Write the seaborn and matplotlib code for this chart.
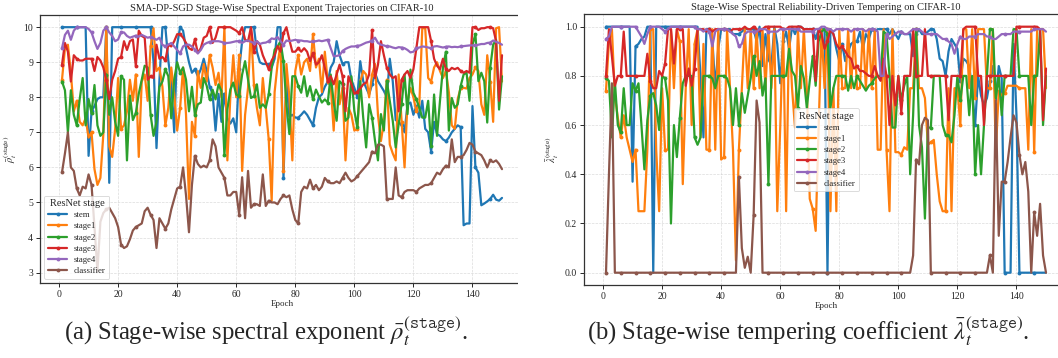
import numpy as np
import pandas as pd
import matplotlib
matplotlib.use("Agg")
import matplotlib.pyplot as plt
from matplotlib.patches import Rectangle
import seaborn as sns

epochs = list(range(1, 151))
stages = ["stem", "stage1", "stage2", "stage3", "stage4", "classifier"]
colors = ["#1f77b4", "#ff7f0e", "#2ca02c", "#d62728", "#9467bd", "#8c564b"]

# ---------------- panel (a): spectral exponent rho ----------------
stem_rho = [10, 10, 10, 10, 10, 10, 10, 10, 10, 6.33,
            7.6, 7.75, 7.95, 8.0, 8.0, 10, 5.56, 10, 10, 10,
            10, 10, 10, 10, 10, 10, 10, 10, 10, 10,
            10, 9.0, 6.55, 8.5, 10, 10, 9.05, 8.4, 7.0, 9.5,
            10, 9.9, 9.4, 9.0, 8.7, 8.8, 8.6, 8.8, 9.1, 8.75,
            8.3, 8.1, 7.05, 8.1, 7.3, 8.1, 7.4, 7.25, 7.4, 7.0,
            8.8, 9.6, 10, 10, 10, 10, 9.3, 9.0, 8.95, 8.95,
            8.95, 8.85, 9.1, 10, 10, 5.7, 8.45, 7.45, 7.5, 7.42,
            7.42, 7.5, 7.6, 7.5, 7.35, 7.2, 7.7, 8.0, 8.08, 8.3,
            8.45, 8.85, 9.0, 9.6, 9.2, 8.95, 9.0, 9.0, 8.5, 8.27,
            8.0, 9.03, 8.46, 8.27, 8.08, 8.37, 8.7, 8.46, 8.32, 8.18,
            8.0, 9.1, 8.46, 7.35, 7.3, 7.2, 7.0, 7.8, 7.85, 7.5,
            7.75, 7.42, 7.9, 7.1, 7.0, 6.45, 7.3, 6.95, 6.9, 6.8,
            6.75, 6.85, 7.0, 7.1, 7.2, 7.15, 4.35, 4.4, 4.4, 7.75,
            6.0, 5.85, 4.92, 4.97, 5.03, 5.1, 5.22, 5.08, 5.05, 5.13]
stage1_rho = [8.5, 9.4, 9.5, 8.7, 7.6, 7.9, 7.3, 7.2, 7.4, 6.85,
              7.0, 5.95, 5.5, 5.7, 6.95, 10.0, 6.6, 6.3, 7.1, 8.55,
              7.1, 7.2, 7.6, 8.5, 7.9, 8.65, 6.3, 8.45, 8.65, 7.9,
              9.45, 9.97, 8.75, 8.85, 8.3, 7.2, 7.7, 8.85, 8.1, 7.05,
              7.7, 8.85, 7.5, 5.1, 7.3, 6.9, 8.75, 8.27, 8.95, 8.45,
              9.2, 8.85, 8.35, 8.7, 8.0, 10.0, 6.2, 8.0, 9.2, 8.0,
              9.2, 5.9, 7.5, 8.27, 9.97, 8.35, 7.7, 7.2, 8.55, 7.7,
              6.8, 5.05, 8.15, 8.95, 9.5, 5.9, 8.95, 8.0, 6.2, 8.75,
              9.2, 8.65, 9.0, 9.1, 8.75, 9.8, 8.85, 9.1, 8.15, 9.3,
              8.45, 8.35, 7.05, 8.75, 7.8, 8.27, 6.2, 7.7, 7.5, 7.05,
              7.1, 8.45, 8.75, 8.65, 8.0, 8.65, 8.95, 7.5, 6.75, 7.3,
              8.5, 6.65, 6.4, 6.2, 8.65, 7.3, 6.0, 7.9, 8.27, 8.0,
              7.6, 7.8, 9.97, 9.97, 8.55, 8.45, 8.85, 9.0, 8.75, 8.55,
              8.75, 8.15, 7.2, 7.1, 7.95, 8.27, 8.27, 8.25, 8.55, 8.65,
              8.85, 8.75, 7.8, 7.5, 9.2, 8.45, 7.3, 9.97, 10.0, 8.45]
stage2_rho = [8.45, 8.2, 7.0, 8.2, 7.5, 7.2, 7.95, 8.55, 7.2, 7.95,
              7.55, 8.35, 7.2, 6.9, 7.0, 8.65, 7.5, 8.0, 7.3, 6.9,
              8.6, 8.5, 6.2, 8.05, 7.35, 7.55, 8.1, 8.5, 8.9, 8.85,
              7.5, 6.9, 7.3, 8.3, 8.45, 8.8, 8.6, 7.4, 8.5, 9.0,
              8.7, 8.85, 8.5, 7.6, 8.3, 7.5, 7.8, 7.85, 8.55, 8.33,
              7.94, 8.22, 7.94, 8.37, 8.18, 6.35, 7.66, 8.22, 8.42, 8.08,
              8.03, 8.65, 9.03, 8.5, 7.98, 8.03, 8.37, 7.7, 7.8, 7.7,
              8.08, 8.84, 9.36, 9.45, 9.6, 9.03, 7.8, 6.95, 8.6, 8.6,
              8.32, 8.13, 8.6, 8.03, 8.32, 7.94, 8.22, 8.03, 7.85, 7.94,
              7.85, 8.65, 7.85, 7.33, 8.46, 8.37, 7.33, 7.42, 8.6, 7.61,
              7.14, 8.46, 7.42, 6.57, 7.8, 7.42, 6.76, 6.2, 7.52, 7.05,
              8.46, 7.9, 7.33, 6.57, 7.23, 7.8, 8.65, 7.52, 8.79, 8.13,
              7.94, 7.7, 7.42, 7.42, 7.9, 6.6, 8.08, 6.9, 7.9, 8.84,
              9.3, 7.05, 7.98, 7.7, 7.8, 8.32, 8.65, 8.7, 7.9, 9.5,
              9.8, 8.46, 8.7, 8.46, 7.28, 8.84, 9.5, 9.64, 7.65, 8.6]
stage3_rho = [8.93, 9.55, 9.3, 8.45, 9.2, 9.1, 9.05, 9.05, 9.1, 9.1,
              9.1, 8.75, 9.15, 9.05, 8.85, 8.5, 7.95, 8.5, 8.75, 9.1,
              9.15, 9.6, 9.35, 9.6, 9.65, 8.9, 9.9, 9.75, 9.7, 8.5,
              8.6, 8.55, 9.5, 9.1, 9.15, 9.05, 9.5, 9.45, 9.6, 9.8,
              9.8, 9.7, 9.55, 9.4, 9.35, 9.65, 9.26, 9.4, 9.7, 9.75,
              10.0, 9.55, 9.7, 10.0, 10.0, 10.0, 10.0, 10.0, 9.95, 9.9,
              9.83, 10.0, 9.64, 9.6, 10.0, 9.3, 9.6, 9.5, 9.2, 9.0,
              8.8, 9.05, 9.2, 9.46, 9.3, 9.83, 10.0, 9.64, 9.3, 9.3,
              9.4, 9.3, 9.4, 9.3, 9.03, 9.26, 8.93, 9.0, 9.2, 8.84,
              8.46, 8.6, 8.37, 8.65, 8.93, 8.6, 7.6, 8.6, 8.37, 8.1,
              8.15, 8.25, 8.37, 8.42, 8.65, 9.92, 8.55, 8.93, 9.6, 9.2,
              8.84, 8.65, 8.55, 8.6, 7.6, 8.5, 8.65, 8.75, 8.55, 8.8,
              9.4, 10.0, 10.0, 10.0, 10.0, 9.6, 9.1, 8.9, 8.8, 9.1,
              8.8, 8.75, 8.84, 8.8, 8.84, 8.75, 8.7, 8.75, 8.7, 10.0,
              10.0, 9.92, 9.97, 9.97, 10.0, 10.0, 9.97, 9.6, 7.9, 9.2]
stage4_rho = [9.4, 9.78, 9.9, 9.64, 9.9, 10.0, 10.0, 10.0, 10.0, 9.95,
              9.85, 9.6, 9.38, 9.55, 9.9, 10.0, 9.85, 9.75, 9.6, 9.65,
              9.85, 9.85, 9.75, 9.7, 9.73, 9.76, 9.73, 9.78, 9.74, 9.7,
              9.72, 9.68, 9.64, 9.7, 9.5, 9.45, 9.5, 9.55, 9.45, 9.35,
              9.25, 9.45, 9.5, 9.5, 9.45, 9.36, 9.25, 9.35, 9.5, 9.55,
              9.58, 9.6, 9.6, 9.6, 9.58, 9.55, 9.55, 9.56, 9.58, 9.6,
              9.6, 9.55, 9.6, 9.62, 9.58, 9.55, 9.6, 9.52, 9.55, 9.56,
              9.6, 9.68, 9.66, 9.72, 9.6, 9.5, 9.62, 9.6, 9.62, 9.64,
              9.62, 9.62, 9.6, 9.6, 9.58, 9.6, 9.6, 9.62, 9.6, 9.62,
              9.64, 9.4, 9.17, 9.18, 9.2, 9.32, 9.38, 9.42, 9.45, 9.45,
              9.47, 9.48, 9.52, 9.56, 9.58, 9.62, 9.7, 9.55, 9.5, 9.48,
              9.45, 9.45, 9.42, 9.4, 9.43, 9.42, 9.4, 9.35, 9.28, 9.3,
              9.4, 9.42, 9.45, 9.44, 9.42, 9.4, 9.45, 9.46, 9.44, 9.42,
              9.44, 9.45, 9.43, 9.44, 9.43, 9.45, 9.46, 9.47, 9.48, 9.48,
              9.48, 9.5, 9.52, 9.52, 9.55, 9.56, 9.62, 9.58, 9.55, 9.5]
classifier_rho = [5.86, 6.4, 7.0, 6.0, 5.9, 5.4, 5.2, 5.45, 5.4, 5.8,
                  5.5, 4.3, 3.05, 4.45, 4.7, 4.8, 4.85, 4.7, 4.55, 4.3,
                  3.8, 3.7, 3.75, 3.95, 4.2, 4.3, 4.35, 4.4, 4.75, 4.85,
                  4.65, 4.5, 3.7, 4.55, 4.4, 4.25, 4.4, 4.8, 5.1, 5.4,
                  5.45, 6.0, 5.2, 4.15, 5.5, 6.33, 6.1, 6.0, 6.05, 6.0,
                  6.2, 6.8, 6.6, 6.0, 5.85, 5.7, 5.2, 5.2, 5.3, 5.3,
                  4.65, 5.72, 4.55, 5.9, 4.85, 4.95, 4.95, 4.9, 5.8, 4.9,
                  5.05, 5.0, 5.0, 4.95, 5.1, 5.2, 5.15, 5.2, 4.8, 4.5,
                  4.4, 5.3, 5.45, 5.4, 5.65, 5.4, 5.5, 5.35, 5.45, 5.7,
                  5.6, 5.55, 5.55, 5.6, 5.55, 5.7, 5.85, 5.7, 5.6, 5.65,
                  5.75, 5.85, 5.95, 6.05, 6.15, 6.45, 6.4, 6.65, 6.65, 6.6,
                  5.1, 5.1, 5.1, 6.0, 5.2, 5.15, 5.3, 5.35, 5.35, 5.35,
                  5.3, 5.4, 5.45, 5.5, 5.5, 5.55, 5.7, 5.85, 5.8, 5.95,
                  6.05, 6.0, 6.8, 6.15, 6.3, 6.3, 6.35, 6.5, 6.7, 6.65,
                  6.45, 6.4, 6.35, 6.2, 6.0, 6.2, 6.15, 6.2, 6.1, 5.95]

# ---------------- panel (b): tempering coefficient lambda ----------------
stem_lam = [1.0, 1.0, 1.0, 1.0, 1.0, 1.0, 1.0, 1.0, 1.0, 0.37,
            0.92, 0.93, 0.95, 0.96, 1.0, 1.0, 0.0, 1.0, 1.0, 1.0,
            1.0, 1.0, 1.0, 1.0, 1.0, 1.0, 1.0, 1.0, 1.0, 1.0,
            1.0, 1.0, 0.8, 0.55, 0.99, 0.99, 0.95, 0.75, 0.91, 0.99,
            0.99, 0.99, 0.99, 0.97, 0.97, 0.97, 0.98, 0.99, 0.99, 0.99,
            0.99, 0.94, 1.0, 0.84, 0.97, 0.87, 0.84, 1.0, 0.93, 0.77,
            0.94, 0.98, 0.91, 1.0, 0.97, 1.0, 1.0, 0.99, 0.99, 0.99,
            0.99, 0.95, 0.99, 0.99, 0.99, 0.0, 0.99, 0.97, 0.91, 0.86,
            0.93, 0.86, 0.9, 0.93, 0.94, 0.94, 0.98, 0.91, 0.97, 0.95,
            0.99, 0.98, 0.99, 0.99, 0.99, 0.99, 0.97, 0.99, 0.97, 0.95,
            0.98, 0.97, 0.97, 0.97, 0.88, 0.97, 0.99, 0.97, 0.97, 0.98,
            0.99, 0.99, 0.95, 0.87, 0.86, 0.8, 0.9, 0.95, 0.93, 0.91,
            0.78, 0.87, 0.86, 0.84, 0.74, 0.6, 0.8, 0.72, 0.68, 0.71,
            0.78, 0.84, 0.7, 0.84, 0.79, 0.0, 0.0, 0.0, 0.93, 0.64,
            0.0, 0.0, 0.0, 0.0, 0.0, 0.0, 0.0, 0.0, 0.0, 0.0]
stage1_lam = [0.74, 0.94, 0.99, 0.72, 0.63, 0.55, 0.64, 0.55, 0.5, 0.45,
              0.5, 0.25, 0.25, 0.25, 0.5, 0.99, 0.99, 0.5, 0.25, 0.75,
              0.5, 0.5, 0.99, 0.75, 0.99, 0.94, 0.36, 0.75, 0.99, 0.6,
              0.93, 0.99, 0.55, 0.93, 0.5, 0.5, 0.99, 0.5, 0.99, 0.46,
              0.47, 0.99, 0.75, 0.5, 0.05, 0.5, 0.75, 0.99, 0.75, 0.99,
              0.75, 0.99, 0.75, 0.99, 0.75, 0.99, 0.75, 0.99, 0.25, 0.59,
              0.99, 0.25, 0.99, 0.75, 0.59, 0.99, 0.75, 0.99, 0.75, 0.3,
              0.26, 0.17, 0.59, 0.99, 0.75, 0.99, 0.25, 0.75, 0.25, 0.99,
              0.75, 0.75, 0.99, 0.75, 0.99, 0.75, 0.75, 0.99, 0.75, 0.99,
              0.75, 0.99, 0.5, 0.5, 0.99, 0.5, 0.25, 0.99, 0.49, 0.49,
              0.48, 0.51, 0.5, 0.75, 0.75, 0.99, 0.75, 0.75, 0.71, 0.52,
              0.53, 0.54, 0.4, 0.29, 0.25, 0.25, 0.75, 0.25, 0.75, 0.75,
              0.6, 0.99, 0.99, 0.75, 0.99, 0.71, 0.99, 0.99, 0.99, 0.75,
              0.75, 0.99, 0.49, 0.74, 0.72, 0.73, 0.76, 0.76, 0.76, 0.76,
              0.75, 0.75, 0.75, 0.5, 0.99, 0.49, 0.99, 0.99, 0.99, 0.75]
stage2_lam = [0.79, 0.78, 0.55, 0.78, 0.6, 0.57, 0.75, 0.6, 0.6, 0.77,
              0.74, 0.77, 0.6, 0.42, 0.62, 0.72, 0.73, 0.68, 0.58, 0.8,
              0.79, 0.7, 0.2, 0.6, 0.47, 0.63, 0.77, 0.8, 0.8, 0.8,
              0.55, 0.52, 0.55, 0.8, 0.8, 0.8, 0.79, 0.75, 0.8, 0.8,
              0.8, 0.79, 0.75, 0.6, 0.75, 0.6, 0.73, 0.65, 0.72, 0.79,
              0.88, 0.8, 0.86, 0.72, 0.79, 0.36, 0.8, 0.8, 0.8, 0.8,
              0.8, 0.8, 0.91, 0.82, 0.8, 0.67, 0.84, 0.79, 0.67, 0.78,
              0.88, 0.76, 0.94, 0.98, 0.99, 0.97, 0.67, 0.75, 0.8, 0.8,
              0.8, 0.8, 0.74, 0.8, 0.75, 0.8, 0.78, 0.76, 0.74, 0.76,
              0.77, 0.79, 0.8, 0.8, 0.98, 0.97, 0.8, 0.59, 0.59, 0.8,
              0.7, 0.76, 0.8, 0.4, 0.64, 0.99, 0.6, 0.51, 0.22, 0.59,
              0.59, 0.8, 0.8, 0.8, 0.6, 0.56, 0.56, 0.53, 0.64, 0.8,
              0.7, 0.8, 0.8, 0.64, 0.8, 0.4, 0.6, 0.4, 0.6, 0.8,
              0.99, 0.99, 0.71, 0.8, 0.64, 0.8, 0.8, 0.8, 0.99, 0.99,
              0.8, 0.8, 0.8, 0.8, 0.6, 0.8, 0.8, 0.99, 0.6, 0.8]
stage3_lam = [0.8, 0.99, 0.88, 0.76, 0.8, 0.8, 0.98, 0.8, 0.8, 0.8,
              0.8, 0.8, 0.8, 0.8, 0.89, 0.78, 0.75, 0.75, 0.82, 0.8,
              0.85, 0.99, 0.99, 0.85, 0.99, 0.99, 0.99, 0.76, 0.83, 0.76,
              0.83, 0.99, 0.99, 0.99, 0.98, 0.99, 0.98, 0.99, 0.99, 0.99,
              0.99, 0.99, 0.98, 0.99, 0.99, 0.99, 0.99, 1.0, 0.99, 0.99,
              1.0, 0.99, 0.98, 0.99, 1.0, 1.0, 1.0, 1.0, 1.0, 1.0,
              0.99, 0.99, 1.0, 1.0, 1.0, 1.0, 1.0, 0.99, 0.99, 0.99,
              0.99, 0.78, 0.99, 0.97, 0.91, 0.94, 0.99, 0.97, 0.93, 0.91,
              0.92, 0.9, 0.88, 0.87, 0.83, 0.84, 0.82, 0.82, 0.81, 0.8,
              0.8, 0.84, 0.8, 0.78, 0.87, 0.8, 0.6, 0.8, 0.68, 0.8,
              0.65, 0.8, 0.8, 0.8, 0.99, 0.8, 0.8, 0.8, 0.99, 0.8,
              0.8, 0.8, 0.8, 0.8, 0.8, 0.8, 0.62, 0.8, 0.8, 0.8,
              0.8, 0.99, 1.0, 1.0, 1.0, 1.0, 0.8, 0.8, 0.6, 0.8,
              0.8, 0.8, 0.8, 0.8, 0.8, 0.8, 0.8, 0.8, 0.8, 1.0,
              1.0, 1.0, 1.0, 1.0, 1.0, 1.0, 1.0, 0.99, 0.62, 0.83]
stage4_lam = [0.95, 0.96, 1.0, 1.0, 1.0, 1.0, 1.0, 1.0, 1.0, 1.0,
              1.0, 0.98, 0.96, 0.93, 0.97, 1.0, 1.0, 1.0, 1.0, 0.99,
              0.98, 0.99, 1.0, 1.0, 1.0, 1.0, 1.0, 1.0, 1.0, 1.0,
              1.0, 0.99, 0.99, 0.98, 0.99, 0.98, 0.92, 0.98, 0.99, 0.99,
              0.99, 0.99, 0.98, 0.97, 0.96, 0.92, 0.93, 0.97, 0.98, 0.98,
              0.98, 0.98, 0.99, 0.99, 0.99, 0.98, 0.98, 0.98, 0.98, 0.99,
              0.99, 0.99, 0.99, 0.99, 0.99, 0.99, 0.98, 0.98, 0.98, 0.98,
              0.98, 0.99, 0.99, 1.0, 1.0, 0.99, 0.99, 0.98, 0.99, 0.99,
              0.99, 0.99, 0.99, 0.98, 0.99, 0.99, 0.99, 0.99, 0.98, 0.99,
              0.99, 0.99, 0.98, 0.8, 0.8, 0.97, 0.95, 0.96, 0.97, 0.98,
              0.98, 0.97, 0.97, 0.98, 0.99, 0.99, 0.99, 0.98, 0.97, 0.97,
              0.97, 0.97, 0.97, 0.96, 0.95, 0.95, 0.94, 0.93, 0.89, 0.93,
              0.96, 0.95, 0.95, 0.96, 0.96, 0.96, 0.97, 0.97, 0.97, 0.96,
              0.96, 0.95, 0.95, 0.96, 0.97, 0.97, 0.97, 0.97, 0.98, 0.98,
              0.98, 0.98, 0.98, 0.98, 0.98, 0.99, 0.99, 0.99, 0.99, 0.98]
classifier_lam = [0.0, 0.4, 0.77, 0.0, 0.0, 0.0, 0.0, 0.0, 0.0, 0.0,
                  0.0, 0.0, 0.0, 0.0, 0.0, 0.0, 0.0, 0.0, 0.0, 0.0,
                  0.0, 0.0, 0.0, 0.0, 0.0, 0.0, 0.0, 0.0, 0.0, 0.0,
                  0.0, 0.0, 0.0, 0.0, 0.0, 0.0, 0.0, 0.0, 0.0, 0.0,
                  0.0, 0.0, 0.0, 0.0, 0.0, 0.39, 0.1, 0.02, 0.065, 0.0,
                  0.235, 0.7, 0.61, 0.0, 0.0, 0.0, 0.0, 0.0, 0.0, 0.0,
                  0.0, 0.0, 0.0, 0.0, 0.0, 0.0, 0.0, 0.0, 0.0, 0.0,
                  0.0, 0.0, 0.0, 0.0, 0.0, 0.0, 0.0, 0.0, 0.0, 0.0,
                  0.0, 0.0, 0.0, 0.0, 0.0, 0.0, 0.0, 0.0, 0.0, 0.0,
                  0.0, 0.0, 0.0, 0.0, 0.0, 0.0, 0.0, 0.0, 0.0, 0.0,
                  0.0, 0.0, 0.0, 0.0, 0.07, 0.46, 0.44, 0.6, 0.63, 0.62,
                  0.0, 0.0, 0.0, 0.0, 0.0, 0.0, 0.0, 0.0, 0.0, 0.0,
                  0.0, 0.0, 0.0, 0.0, 0.0, 0.0, 0.0, 0.0, 0.0, 0.0,
                  0.07, 0.0, 0.7, 0.15, 0.37, 0.37, 0.45, 0.55, 0.64, 0.61,
                  0.48, 0.4, 0.45, 0.33, 0.0, 0.245, 0.15, 0.28, 0.07, 0.0]

rho_series = [stem_rho, stage1_rho, stage2_rho, stage3_rho, stage4_rho, classifier_rho]
lam_series = [stem_lam, stage1_lam, stage2_lam, stage3_lam, stage4_lam, classifier_lam]

title_a = "SMA-DP-SGD Stage-Wise Spectral Exponent Trajectories on CIFAR-10"
title_b = "Stage-Wise Spectral Reliability-Driven Tempering on CIFAR-10"
caption_a = r"(a) Stage-wise spectral exponent $\bar{\rho}_t^{(\mathtt{stage})}$."
caption_b = r"(b) Stage-wise tempering coefficient $\bar{\lambda}_t^{(\mathtt{stage})}$."

sns.set_style("ticks")
plt.rcParams["font.family"] = ["Liberation Serif", "DejaVu Serif"]
plt.rcParams["mathtext.fontset"] = "stix"

W, H = 1058, 358
fig = plt.figure(figsize=(W / 100, H / 100), dpi=100)
fig.patch.set_facecolor("white")


def px_axes(x0, x1, y0, y1):
    return fig.add_axes([x0 / W, 1 - y1 / H, (x1 - x0) / W, (y1 - y0) / H])


ax1 = px_axes(40, 524, 15, 283)
ax2 = px_axes(584, 1068, 14.4, 285)


def draw(ax, series, title, ylabel, legend_loc):
    for name, vals, c in zip(stages, series, colors):
        df = pd.DataFrame({"epoch": epochs, "value": vals})
        sns.lineplot(data=df, x="epoch", y="value", ax=ax, color=c, label=name,
                     lw=1.6, marker="o", markersize=2.8, markevery=5,
                     markeredgewidth=0, errorbar=None)
    ax.set_title(title, fontsize=7.5, pad=3)
    ax.set_xlabel("Epoch", fontsize=6.5, labelpad=1)
    ax.set_ylabel(ylabel, fontsize=7.5, labelpad=3)
    ax.grid(True, ls="--", lw=0.5, color="#cccccc", alpha=0.7)
    ax.tick_params(labelsize=7, length=3, width=0.7, pad=2)
    for s in ax.spines.values():
        s.set_color("#333333")
        s.set_linewidth(0.9)
    leg = ax.legend(title="ResNet stage", loc=legend_loc, fontsize=6.3,
                    title_fontsize=7.5, frameon=True, handlelength=2.2,
                    borderpad=0.4, labelspacing=0.35)
    leg.get_frame().set_edgecolor("#cccccc")
    leg.get_frame().set_linewidth(0.6)


draw(ax1, rho_series, title_a, r"$\bar{\rho}_t^{(\mathrm{stage})}$", "lower left")
draw(ax2, lam_series, title_b, r"$\bar{\lambda}_t^{(\mathrm{stage})}$", "center")
ax1.set_xticks([0, 20, 40, 60, 80, 100, 120, 140])
ax2.set_xticks([0, 20, 40, 60, 80, 100, 120, 140])
ax1.set_yticks([3, 4, 5, 6, 7, 8, 9, 10])
ax2.set_yticks([0.0, 0.2, 0.4, 0.6, 0.8, 1.0])

# crop gap between the two sub-figures
fig.add_artist(Rectangle((518 / W, 0), 26 / W, 1, transform=fig.transFigure,
                         facecolor="white", edgecolor="none", zorder=20))

fig.text(266 / W, 1 - 331 / H, caption_a, ha="center", va="center", fontsize=17.7)
fig.text(808 / W, 1 - 331 / H, caption_b, ha="center", va="center", fontsize=17.7)

fig.savefig("out.png", dpi=100)
